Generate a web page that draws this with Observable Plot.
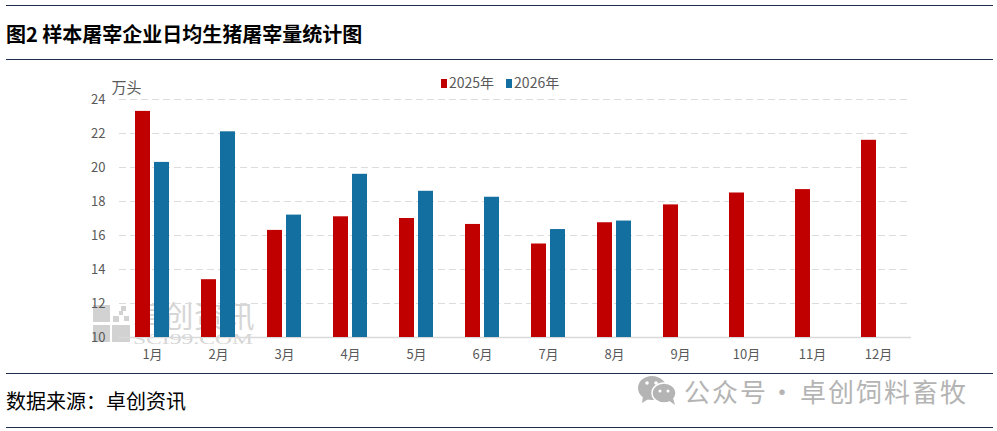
<!DOCTYPE html>
<html lang="zh">
<head>
<meta charset="utf-8">
<script src="https://cdn.jsdelivr.net/npm/d3@7"></script>
<script src="https://cdn.jsdelivr.net/npm/@observablehq/plot@0.6"></script>
<style>
html,body{margin:0;padding:0;background:#fff;width:997px;height:431px;overflow:hidden;position:relative;font-family:"Noto Sans CJK SC",sans-serif}
.hr{position:absolute;left:6px;width:987px;height:1px;background:#1f2d4d}
#title{position:absolute;left:6px;top:20px;font-size:20px;line-height:28px;font-weight:700;color:#000;white-space:pre}
#source{position:absolute;left:6px;top:387px;font-size:20px;line-height:28px;color:#000}
#wm{position:absolute;left:0;top:0}
#chart{position:absolute;left:0;top:70px}
#legend{position:absolute;left:441px;top:72px;font-size:14px;line-height:20px;color:#595959;white-space:nowrap}
#legend i{display:inline-block;width:6px;height:9px;margin-right:2px;vertical-align:0}
#legend span{margin-right:12px}
.brand{position:absolute;top:373px;font-size:26px;line-height:36px;letter-spacing:2px;color:#b4b4b4;white-space:pre}
</style>
</head>
<body>
<div class="hr" style="top:5px"></div>
<div id="title">图2 样本屠宰企业日均生猪屠宰量统计图</div>
<div class="hr" style="top:59px"></div>
<svg id="wm" width="997" height="431">
  <g fill="#d2d2d2">
    <rect x="93" y="305" width="17" height="17"/>
    <rect x="93" y="325" width="17" height="17"/>
    <rect x="112" y="325" width="18" height="17"/>
    <rect x="113" y="316" width="6" height="6"/><rect x="121" y="306" width="5" height="5"/><rect x="124" y="316" width="5" height="5"/><rect x="119" y="311" width="4" height="4"/>
  </g>
  <text x="133" y="327" font-size="30" letter-spacing="0.5" fill="#d6d6d6">卓创资讯</text>
  <text x="133" y="344" font-size="15" font-family="Liberation Serif" textLength="120" lengthAdjust="spacingAndGlyphs" fill="#d6d6d6">SCI99.COM</text>
  <g fill="#b4b4b4">
    <ellipse cx="652" cy="388" rx="14" ry="12"/>
    <path d="M643 396 L642 403 L650 398Z"/>
    <ellipse cx="664" cy="393" rx="12" ry="10" stroke="#fff" stroke-width="1.5"/>
    <path d="M668 400 L675 405 L673 398Z"/>
    <g fill="#fff"><circle cx="647" cy="383" r="1.8"/><circle cx="656" cy="383" r="1.8"/><circle cx="660" cy="391" r="1.5"/><circle cx="668" cy="391" r="1.5"/></g>
  </g>
</svg>
<div id="chart"></div>
<div id="legend"><i style="background:#c00000"></i><span>2025年</span><i style="background:#136f9f"></i><span>2026年</span></div>
<div class="hr" style="top:373px"></div>
<div id="source">数据来源：卓创资讯</div>
<div class="brand" style="left:684px">公众号</div>
<div class="brand" style="left:769px">·</div>
<div class="brand" style="left:800px">卓创饲料畜牧</div>
<div class="hr" style="top:427px"></div>
<script>
const months = ["1月","2月","3月","4月","5月","6月","7月","8月","9月","10月","11月","12月"];
const values2025 = [23.3,13.4,16.3,17.1,17.0,16.65,15.5,16.75,17.8,18.5,18.7,21.6];
const values2026 = [20.3,22.1,17.2,19.6,18.6,18.25,16.35,16.85];
const yTicks = [10,12,14,16,18,20,22,24];
const seriesNames = ["2025年","2026年"];
const seriesColors = ["#c00000","#136f9f"];

const rows = [
  ...values2025.map((v,i)=>({month:months[i],series:seriesNames[0],value:v})),
  ...values2026.map((v,i)=>({month:months[i],series:seriesNames[1],value:v}))
];

const chart = Plot.plot({
  width:997, height:300,
  marginLeft:119, marginRight:86, marginTop:29, marginBottom:33,
  style:{background:"transparent",fontFamily:"'Noto Sans CJK SC',sans-serif",fontSize:"13px",color:"#595959"},
  fx:{domain:months,padding:0,label:null,tickSize:0,tickPadding:12},
  x:{domain:seriesNames,paddingInner:0.21,paddingOuter:0.84,axis:null},
  y:{domain:[10,24],ticks:yTicks},
  color:{domain:seriesNames,range:seriesColors},
  marks:[
    Plot.ruleY(yTicks.slice(1),{stroke:"#dcdcdc",strokeDasharray:"7 4",strokeWidth:1}),
    Plot.ruleY([10],{stroke:"#d9d9d9",strokeWidth:1.5}),
    Plot.barY(rows,{fx:"month",x:"series",y1:10,y2:"value",fill:"series"}),
    Plot.axisY({ticks:yTicks,tickSize:0,tickPadding:14,label:null,fontSize:13}),
    Plot.text(["万头"],{facet:"super",frameAnchor:"top-left",dx:-8,dy:-17,textAnchor:"start",fontSize:15,fill:"#595959"})
  ]
});
document.getElementById("chart").append(chart);
</script>
</body>
</html>
